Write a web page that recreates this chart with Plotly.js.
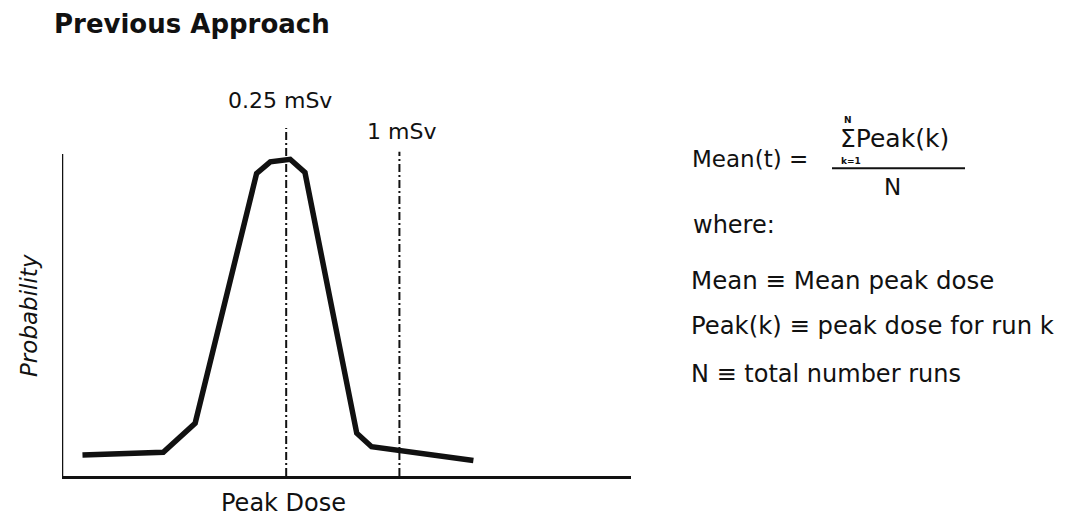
<!DOCTYPE html>
<html>
<head>
<meta charset="utf-8">
<script src="https://cdn.plot.ly/plotly-3.0.1.min.js"></script>
<style>
  html, body { margin: 0; padding: 0; background: #fff; }
  #chart { width: 1068px; height: 518px; }
</style>
</head>
<body>
<div id="chart"></div>
<script>
// ---- data (x: relative peak dose 0-100, y: relative probability 0-100) ----
const doseX = [3.6, 17.8, 23.4, 34.2, 36.6, 40.1, 42.7, 51.8, 54.4, 72.3];
const probY = [6.5, 7.4, 16.4, 94.0, 97.6, 98.4, 94.3, 13.3, 9.1, 4.8];
const refLineX = [39.4, 59.3];
const refLineTop = [108.1, 100.7];
const refLabels = ['0.25 mSv', '1 mSv'];
const titleText = 'Previous Approach';
const xTitle = 'Peak Dose';
const yTitle = 'Probability';
const formulaLines = ['where:', 'Mean \u2261 Mean peak dose', 'Peak(k) \u2261 peak dose for run k', 'N \u2261 total number runs'];

const W = 1068, H = 518;
const px = x => x / W;
const py = y => 1 - y / H;
const FONT = 'DejaVu Sans, Liberation Sans, Arial, sans-serif';
const INK = '#111111';

const traces = [{
  x: doseX, y: probY, type: 'scatter', mode: 'lines',
  line: { color: INK, width: 5.5, shape: 'linear' },
  hoverinfo: 'skip', showlegend: false
}];

const shapes = [];
// y axis line
shapes.push({ type: 'line', xref: 'x', yref: 'y', x0: 0, x1: 0, y0: -0.4, y1: 100,
  line: { color: INK, width: 2.5 } });
// reference dash-dot lines
refLineX.forEach((xv, i) => {
  shapes.push({ type: 'line', xref: 'x', yref: 'y', x0: xv, x1: xv, y0: 0, y1: refLineTop[i],
    line: { color: INK, width: 2, dash: '8px,3px,2px,3px' } });
});
// fraction bar
shapes.push({ type: 'line', xref: 'paper', yref: 'paper', x0: px(832), x1: px(965), y0: py(168.3), y1: py(168.3),
  line: { color: INK, width: 2 } });

const ann = [];
const addText = (text, x, y, size, opts) => ann.push(Object.assign({
  text: text, xref: 'paper', yref: 'paper', x: px(x), y: py(y), showarrow: false,
  xanchor: 'left', yanchor: 'middle', font: { family: FONT, size: size, color: INK }
}, opts || {}));

addText('<b>' + titleText + '</b>', 52, 24, 26);
refLabels.forEach((t, i) => {
  ann.push({ text: t, xref: 'x', yref: 'paper', x: refLineX[i], y: py(i === 0 ? 101 : 131),
    xshift: i === 0 ? -6 : 2, showarrow: false, xanchor: 'center', yanchor: 'middle',
    font: { family: FONT, size: 22, color: INK } });
});
addText(xTitle, 283, 503, 24, { xanchor: 'center' });
addText('<i>' + yTitle + '</i>', 29, 316, 23, { xanchor: 'center', textangle: -90 });

addText('Mean(t) =', 690, 158.5, 23);
addText('\u03a3Peak(k)', 838, 138, 25);
addText('<b>N</b>', 848, 120, 9, { xanchor: 'center' });
addText('<b>k=1</b>', 839, 160.5, 9);
addText('N', 892.5, 186.5, 23, { xanchor: 'center' });
addText(formulaLines[0], 691, 225, 24);
addText(formulaLines[1], 689, 280, 24.5);
addText(formulaLines[2], 689, 325, 24.3);
addText(formulaLines[3], 689, 373.5, 24);

const layout = {
  width: W, height: H,
  margin: { l: 0, r: 0, t: 0, b: 0, pad: 0 },
  paper_bgcolor: '#ffffff', plot_bgcolor: '#ffffff',
  showlegend: false,
  xaxis: { domain: [px(62), px(631)], range: [0, 100], showline: true, linecolor: INK, linewidth: 2.5,
    showgrid: false, zeroline: false, showticklabels: false, ticks: '', fixedrange: true },
  yaxis: { domain: [42 / H, 398 / H], range: [0, 110.6], showline: false,
    showgrid: false, zeroline: false, showticklabels: false, ticks: '', fixedrange: true },
  shapes: shapes,
  annotations: ann,
  font: { family: FONT, color: INK }
};

Plotly.newPlot('chart', traces, layout, { displayModeBar: false, staticPlot: true });
</script>
</body>
</html>
